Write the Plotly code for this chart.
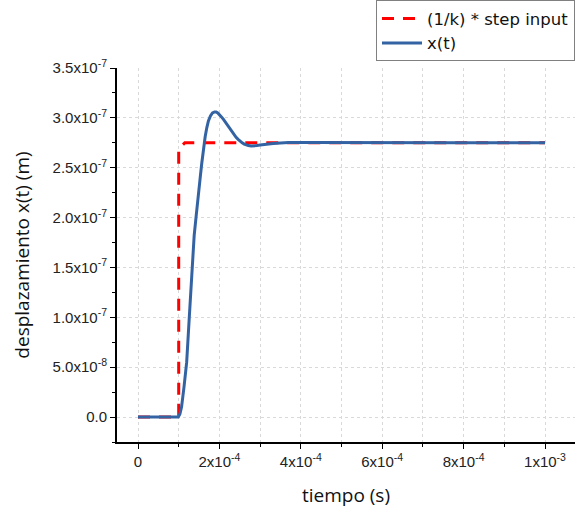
import plotly.graph_objects as go

# Data
t_step = [0.0, 1.0e-4, 1.0e-4, 1.15e-4, 1.0e-3]
u_step = [0.0, 0.0, 2.69e-7, 2.75e-7, 2.75e-7]

t_x = [0.0, 0.99e-4, 1.03e-4, 1.07e-4, 1.13e-4, 1.196e-4, 1.26e-4, 1.32e-4, 1.38e-4,
       1.425e-4, 1.48e-4, 1.523e-4, 1.565e-4, 1.605e-4, 1.65e-4, 1.69e-4, 1.73e-4,
       1.78e-4, 1.83e-4, 1.88e-4, 1.92e-4, 1.96e-4, 2.0e-4, 2.05e-4, 2.1e-4, 2.15e-4,
       2.2e-4, 2.25e-4, 2.30e-4, 2.36e-4, 2.41e-4, 2.46e-4, 2.51e-4, 2.56e-4,
       2.61e-4, 2.66e-4, 2.71e-4, 2.78e-4, 2.85e-4, 2.92e-4, 3.0e-4, 3.15e-4,
       3.32e-4, 3.5e-4, 3.7e-4, 4.2e-4, 5.0e-4, 6.0e-4, 7.0e-4, 8.0e-4, 9.0e-4, 1.0e-3]
x_t = [0.0, 0.0, 0.3e-8, 1.0e-8, 3.0e-8, 5.5e-8, 1.0e-7, 1.48e-7, 1.82e-7,
       2.0e-7, 2.18e-7, 2.38e-7, 2.54e-7, 2.68e-7, 2.81e-7, 2.90e-7, 2.97e-7,
       3.02e-7, 3.05e-7, 3.06e-7, 3.06e-7, 3.05e-7, 3.035e-7, 3.01e-7, 2.985e-7, 2.955e-7,
       2.925e-7, 2.89e-7, 2.86e-7, 2.83e-7, 2.805e-7, 2.785e-7, 2.765e-7, 2.75e-7,
       2.737e-7, 2.728e-7, 2.722e-7, 2.718e-7, 2.718e-7, 2.722e-7, 2.727e-7, 2.736e-7,
       2.743e-7, 2.748e-7, 2.752e-7, 2.752e-7, 2.75e-7, 2.75e-7, 2.75e-7, 2.75e-7,
       2.75e-7, 2.75e-7]

x_tickvals = [0, 2e-4, 4e-4, 6e-4, 8e-4, 1e-3]
x_ticktext = ["0", "2x10<sup>-4</sup>", "4x10<sup>-4</sup>", "6x10<sup>-4</sup>",
              "8x10<sup>-4</sup>", "1x10<sup>-3</sup>"]
x_minor = [1e-4, 3e-4, 5e-4, 7e-4, 9e-4]
y_tickvals = [0, 0.5e-7, 1.0e-7, 1.5e-7, 2.0e-7, 2.5e-7, 3.0e-7, 3.5e-7]
y_ticktext = ["0.0", "5.0x10<sup>-8</sup>", "1.0x10<sup>-7</sup>", "1.5x10<sup>-7</sup>",
              "2.0x10<sup>-7</sup>", "2.5x10<sup>-7</sup>", "3.0x10<sup>-7</sup>",
              "3.5x10<sup>-7</sup>"]
y_minor = [-2.5e-8, 2.5e-8, 7.5e-8, 1.25e-7, 1.75e-7, 2.25e-7, 2.75e-7, 3.25e-7]

fig = go.Figure()
fig.add_trace(go.Scatter(x=t_step, y=u_step, mode="lines", name="(1/k) * step input",
                         line=dict(color="#ff0000", width=3, dash="12px,9px")))
fig.add_trace(go.Scatter(x=t_x, y=x_t, mode="lines", name="x(t)",
                         line=dict(color="#3463a3", width=3)))

grid = dict(gridcolor="#d9d9d9", griddash="dot", gridwidth=1)
tickfont = dict(family="Liberation Sans, Arial", size=15, color="#222")
titlefont = dict(family="Open Sans, Noto Sans", size=19, color="#111")

fig.update_xaxes(range=[-0.516e-4, 1.0737e-3], tickmode="array", tickvals=x_tickvals,
                 ticktext=x_ticktext, ticks="outside", ticklen=5, tickwidth=1,
                 tickcolor="#000", showline=True, linecolor="#000", linewidth=2,
                 zeroline=False, tickfont=tickfont, showgrid=True, **grid,
                 minor=dict(tickmode="array", tickvals=x_minor, ticks="outside",
                            ticklen=3, tickcolor="#000", showgrid=True,
                            gridcolor="#d9d9d9", griddash="dot"),
                 title=dict(text="tiempo (s)", font=titlefont, standoff=20))
fig.update_yaxes(range=[-2.5e-8, 3.5e-7], tickmode="array", tickvals=y_tickvals,
                 ticktext=y_ticktext, ticks="outside", ticklen=5, tickwidth=1,
                 tickcolor="#000", showline=True, linecolor="#000", linewidth=2,
                 zeroline=False, tickfont=tickfont, showgrid=True, **grid,
                 minor=dict(tickmode="array", tickvals=y_minor, ticks="outside",
                            ticklen=3, tickcolor="#000", showgrid=False),
                 title=dict(text="desplazamiento x(t) (m)", font=titlefont, standoff=18))

fig.update_layout(
    width=577, height=512,
    margin=dict(l=117, r=2, t=67, b=70),
    plot_bgcolor="white", paper_bgcolor="white",
    showlegend=True,
    legend=dict(x=1.0, y=1.178, xanchor="right", yanchor="top",
                bgcolor="white", bordercolor="#808080", borderwidth=1,
                font=dict(family="DejaVu Sans", size=16.5, color="#111"),
                tracegroupgap=0, itemwidth=40),
)

fig.write_html("out.html")
